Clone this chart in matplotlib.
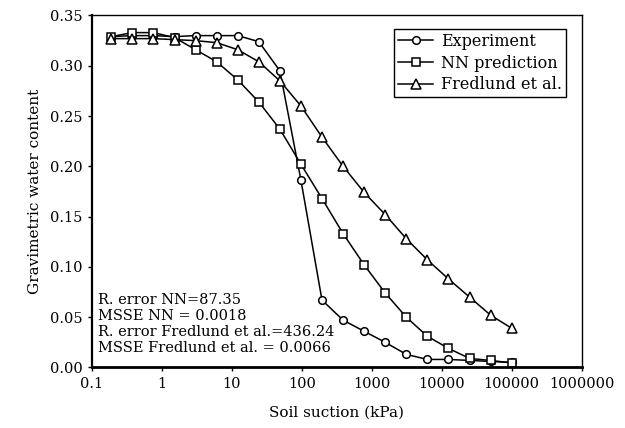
import numpy as np
import matplotlib
matplotlib.use("Agg")
import matplotlib.pyplot as plt

# -----------------------------
# Data
# -----------------------------
suction = [0.19, 0.38, 0.76, 1.53, 3.05, 6.1, 12.2, 24.4, 48.8, 97.7,
           195, 391, 781, 1562, 3125, 6250, 12500, 25000, 50000, 100000]

experiment = [0.329, 0.330, 0.330, 0.329, 0.330, 0.330, 0.330, 0.324, 0.295, 0.186,
              0.067, 0.047, 0.036, 0.025, 0.013, 0.008, 0.008, 0.007, 0.006, 0.005]

nn_prediction = [0.329, 0.333, 0.333, 0.328, 0.316, 0.304, 0.286, 0.264, 0.237, 0.202,
                 0.168, 0.133, 0.102, 0.074, 0.050, 0.031, 0.019, 0.009, 0.007, 0.0045]

fredlund = [0.327, 0.327, 0.327, 0.326, 0.325, 0.323, 0.316, 0.304, 0.285, 0.260,
            0.229, 0.200, 0.174, 0.152, 0.128, 0.107, 0.088, 0.070, 0.052, 0.039]

x_ticks = [0.1, 1, 10, 100, 1000, 10000, 100000, 1000000]
x_tick_labels = ["0.1", "1", "10", "100", "1000", "10000", "100000", "1000000"]
y_ticks = [0.00, 0.05, 0.10, 0.15, 0.20, 0.25, 0.30, 0.35]

stats_lines = ["R. error NN=87.35",
               "MSSE NN = 0.0018",
               "R. error Fredlund et al.=436.24",
               "MSSE Fredlund et al. = 0.0066"]

# -----------------------------
# Plot
# -----------------------------
plt.rcParams['font.family'] = ['DejaVu Serif']

fig = plt.figure(figsize=(6.25, 4.28), dpi=100)
ax = fig.add_axes([0.1467, 0.1414, 0.784, 0.8224])

mk = dict(color='black', lw=1.1, markerfacecolor='white', markeredgecolor='black',
          markeredgewidth=1.1)
ax.plot(suction, experiment, marker='o', markersize=5.5, label='Experiment', **mk)
ax.plot(suction, nn_prediction, marker='s', markersize=5.5, label='NN prediction', **mk)
ax.plot(suction, fredlund, marker='^', markersize=6.5, label='Fredlund et al.', **mk)

ax.set_xscale('log')
ax.set_xlim(0.1, 1000000)
ax.set_ylim(0, 0.35)
ax.set_xticks(x_ticks)
ax.set_xticklabels(x_tick_labels)
ax.minorticks_off()
ax.set_yticks(y_ticks)
ax.set_yticklabels([f"{v:.2f}" for v in y_ticks])
ax.tick_params(axis='both', direction='out', length=3, width=1, labelsize=10.5)

for side, w in [('bottom', 2.0), ('left', 1.6), ('top', 1.0), ('right', 1.0)]:
    ax.spines[side].set_linewidth(w)

ax.set_xlabel("Soil suction (kPa)", fontsize=11, labelpad=11)
ax.set_ylabel("Gravimetric water content", fontsize=11, labelpad=6)

leg = ax.legend(loc='upper right', fontsize=11.5, frameon=True, fancybox=False,
                edgecolor='black', framealpha=1, handlelength=2.2,
                borderpad=0.25, labelspacing=0.3, handletextpad=0.5,
                bbox_to_anchor=(0.985, 0.985))
leg.get_frame().set_linewidth(1.0)

ax.text(0.012, 0.035, "\n".join(stats_lines), transform=ax.transAxes,
        fontsize=10.5, va='bottom', ha='left', linespacing=1.2)

fig.savefig("out.png", dpi=100)
